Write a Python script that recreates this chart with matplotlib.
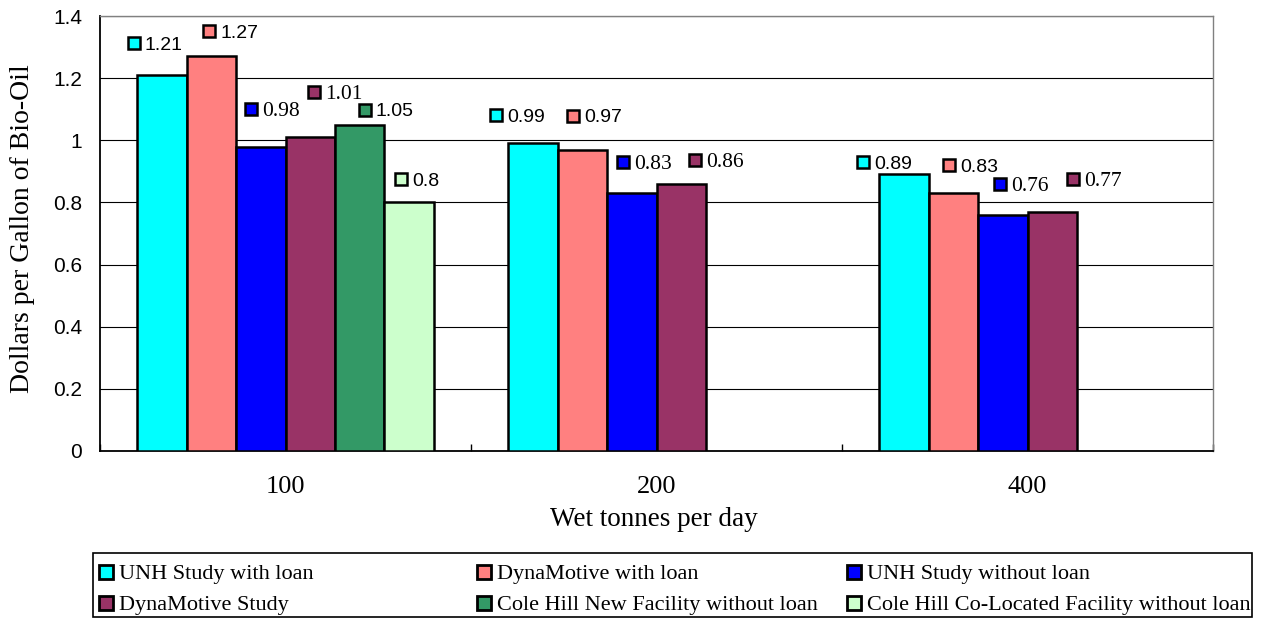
import numpy as np
import matplotlib as mpl
mpl.use('Agg')
import matplotlib.pyplot as plt
from matplotlib.transforms import offset_copy
from matplotlib.patches import Rectangle

# data
categories = ['100', '200', '400']
series_names = ['UNH Study with loan', 'DynaMotive with loan',
                'UNH Study without loan', 'DynaMotive Study',
                'Cole Hill New Facility without loan',
                'Cole Hill Co-Located Facility without loan']
unh_loan = [1.21, 0.99, 0.89]
dyna_loan = [1.27, 0.97, 0.83]
unh_no_loan = [0.98, 0.83, 0.76]
dyna_study = [1.01, 0.86, 0.77]
cole_new = [1.05, np.nan, np.nan]
cole_coloc = [0.80, np.nan, np.nan]
series = [unh_loan, dyna_loan, unh_no_loan, dyna_study, cole_new, cole_coloc]

colors = ['#00FFFF', '#FF8080', '#0000FF', '#993366', '#339966', '#CCFFCC']
# label font per series (Excel mixed Arial / Times)
label_fonts = ['Liberation Sans', 'Liberation Sans', 'Liberation Serif',
               'Liberation Serif', 'Liberation Sans', 'Liberation Sans']
label_sizes = [14, 14, 15.5, 15.5, 14, 14]
# label key offset (pixels) from bar top centre, per series / category
label_dx = [[-28, -37, -41], [-2, -9, -4], [-10, -9, -3], [4, 14, 21], [5], [-8]]
label_dy = [[32, 28, 12], [25, 34, 28], [38, 31, 31], [45, 24, 33], [15], [23]]

W, H = 1265, 618
fig = plt.figure(figsize=(W / 100, H / 100), dpi=100)
ax = fig.add_axes([100 / W, 1 - 451 / H, 1113 / W, 435 / H])

x = np.arange(len(categories))
width = 0.8 / 6
for j, vals in enumerate(series):
    ax.bar(x - 0.4 + (j + 0.5) * width, vals, width, color=colors[j],
           edgecolor='black', linewidth=1.8, zorder=3)

# value labels with legend key
for j, vals in enumerate(series):
    for i, v in enumerate(vals):
        if np.isnan(v):
            continue
        xc = i - 0.4 + (j + 0.5) * width
        dx, dy = label_dx[j][i], label_dy[j][i]
        tr = offset_copy(ax.transData, fig=fig, x=dx, y=dy, units='dots')
        ax.plot([xc], [v], marker='s', markersize=9, color=colors[j],
                markeredgecolor='black', markeredgewidth=1.8,
                transform=tr, clip_on=False, zorder=5)
        tr2 = offset_copy(ax.transData, fig=fig, x=dx + 11, y=dy, units='dots')
        ax.text(xc, v, f'{v:g}', transform=tr2, ha='left',
                va='center_baseline', fontsize=label_sizes[j],
                family=label_fonts[j], zorder=5)

ax.set_xlim(-0.5, 2.5)
ax.set_ylim(0, 1.4)
ax.set_yticks(np.arange(0, 1.41, 0.2))
ax.set_yticklabels(['0', '0.2', '0.4', '0.6', '0.8', '1', '1.2', '1.4'],
                   family='Liberation Sans', fontsize=15)
ax.tick_params(axis='y', length=0, pad=13)
ax.yaxis.grid(True, color='black', linewidth=0.8, zorder=0)

ax.set_xticks([-0.5, 0.5, 1.5, 2.5])
ax.set_xticklabels([])
ax.tick_params(axis='x', which='major', direction='in', length=5,
               width=1, color='black')
ax.set_xticks(x, minor=True)
ax.set_xticklabels(categories, minor=True, family='Liberation Serif',
                   fontsize=19)
ax.tick_params(axis='x', which='minor', length=0, pad=18)

for s in ['top', 'right']:
    ax.spines[s].set_color('#808080')
    ax.spines[s].set_linewidth(1)
for s in ['left', 'bottom']:
    ax.spines[s].set_color('black')
    ax.spines[s].set_linewidth(1.3)

fig.text(654 / W, 1 - 520 / H, 'Wet tonnes per day', ha='center',
         va='center', family='Liberation Serif', fontsize=19.5)
fig.text(23 / W, 1 - 229 / H, 'Dollars per Gallon of Bio-Oil', rotation=90,
         ha='center', va='center', family='Liberation Serif', fontsize=20)

# legend drawn by hand on a pixel overlay
lax = fig.add_axes([0, 0, 1, 1], zorder=10)
lax.set_xlim(0, W)
lax.set_ylim(H, 0)
lax.axis('off')
lax.add_patch(Rectangle((93, 553), 1159, 64, fill=False, edgecolor='black',
                        linewidth=1.2))
col_x = [106, 484, 854]
row_y = [572, 603]
for k, name in enumerate(series_names):
    cx = col_x[k % 3]
    cy = row_y[k // 3]
    lax.plot([cx], [cy], marker='s', markersize=9.5, color=colors[k],
             markeredgecolor='black', markeredgewidth=2)
    lax.text(cx + 13, cy, name, ha='left', va='center_baseline',
             family='Liberation Serif', fontsize=16)

fig.savefig('out.png', dpi=100)
